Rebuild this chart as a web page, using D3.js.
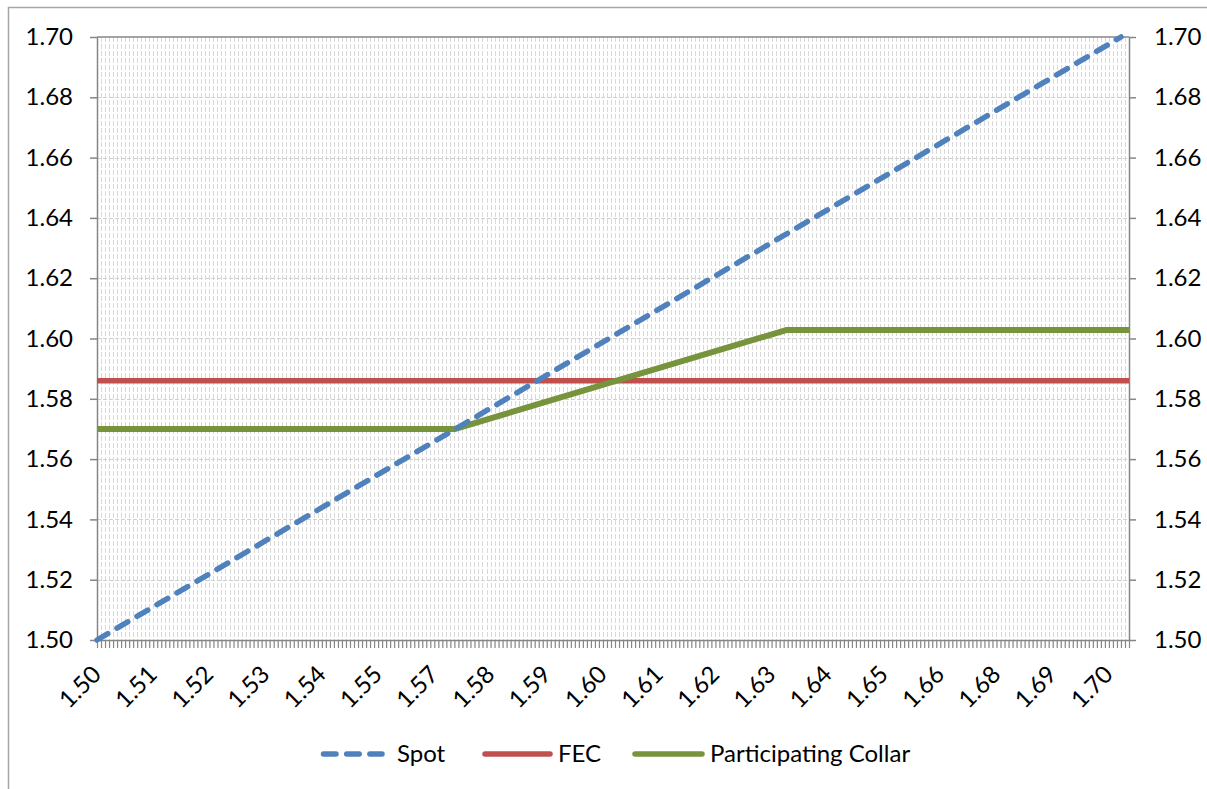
<!DOCTYPE html>
<html>
<head>
    <meta charset="utf-8">
    <title>Spot / FEC / Participating Collar</title>
    <script type="text/javascript" src="https://cdnjs.cloudflare.com/ajax/libs/d3/7.8.5/d3.min.js"></script>
    <style>
        body { margin: 0; background: #fff; }
        svg text { font-family: Lato, "Open Sans", sans-serif; font-size: 24px; fill: #000; }
    </style>
</head>

<body>

<script type="text/javascript">

    // category axis: spot rates from 1.50, one every 0.2/255, a label on every 14th
    var catStart = 1.50, catStep = 0.2 / 255, catCount = 258, labelEvery = 14;

    var xLabels = ["1.50", "1.51", "1.52", "1.53", "1.54", "1.55", "1.57", "1.58", "1.59", "1.60",
        "1.61", "1.62", "1.63", "1.64", "1.65", "1.66", "1.68", "1.69", "1.70"];
    var yTicks = [1.50, 1.52, 1.54, 1.56, 1.58, 1.60, 1.62, 1.64, 1.66, 1.68, 1.70];

    // series break points (spot rate, outcome)
    var spotX = [1.50, 1.70],
        spotY = [1.50, 1.70];
    var fecX = [1.50, 1.7016],
        fecY = [1.586, 1.586];
    var collarX = [1.50, 1.57, 1.6346, 1.7016],
        collarY = [1.57, 1.57, 1.6028, 1.6028];

    var seriesNames = ["Spot", "FEC", "Participating Collar"];
    var seriesColors = ["#4f81bd", "#c0504d", "#77933c"];

    var width = 1207, height = 789,
        margins = {top: 37, left: 97, right: 78, bottom: 149};

    var svg = d3.select("body").append("svg")
        .attr("width", width)
        .attr("height", height);

    // chart frame (runs off the right and bottom of the picture)
    svg.append("rect")
        .attr("x", 8.5).attr("y", 7.5)
        .attr("width", 1400).attr("height", 1000)
        .attr("fill", "none")
        .attr("stroke", "#a6a6a6")
        .attr("stroke-width", 1.5);

    var x = d3.scaleLinear()
        .domain([catStart, catStart + catStep * (catCount - 1)])
        .range([margins.left, width - margins.right]);

    var y = d3.scaleLinear()
        .domain([1.50, 1.70])
        .range([height - margins.bottom, margins.top]);

    var catValues = d3.range(catCount).map(function (i) { return catStart + i * catStep; });

    // gridlines
    var gridG = svg.append("g").attr("class", "grid");

    gridG.selectAll("line.v")
        .data(catValues.slice(1, catCount - 1))
        .enter().append("line")
        .attr("class", "v")
        .attr("x1", function (d) { return Math.round(x(d)) + 0.5; })
        .attr("x2", function (d) { return Math.round(x(d)) + 0.5; })
        .attr("y1", y(1.70))
        .attr("y2", y(1.50))
        .attr("stroke", "#d9d9d9")
        .attr("stroke-width", 1)
        .attr("stroke-dasharray", "5,2");

    gridG.selectAll("line.h")
        .data(yTicks.slice(1, yTicks.length - 1))
        .enter().append("line")
        .attr("class", "h")
        .attr("x1", x.range()[0])
        .attr("x2", x.range()[1])
        .attr("y1", function (d) { return Math.round(y(d)) + 0.5; })
        .attr("y2", function (d) { return Math.round(y(d)) + 0.5; })
        .attr("stroke", "#d0d0d0")
        .attr("stroke-width", 1)
        .attr("stroke-dasharray", "4,2");

    // axes
    var axisColor = "#868686";

    function styleAxis(g)
    {
        g.select(".domain").attr("stroke", axisColor).attr("stroke-width", 1.5);
        g.selectAll(".tick line").attr("stroke", axisColor).attr("stroke-width", 1.5);
        g.selectAll("text").attr("fill", "#000").attr("font-size", null).attr("font-family", null);
    }

    svg.append("g")
        .attr("transform", "translate(" + margins.left + ",0)")
        .call(d3.axisLeft(y).tickValues(yTicks).tickSize(7).tickSizeOuter(0)
            .tickPadding(17).tickFormat(d3.format(".2f")))
        .call(styleAxis);

    svg.append("g")
        .attr("transform", "translate(" + (width - margins.right) + ",0)")
        .call(d3.axisRight(y).tickValues(yTicks).tickSize(7).tickSizeOuter(0)
            .tickPadding(18).tickFormat(d3.format(".2f")))
        .call(styleAxis);

    // top border of the plot area
    svg.append("line")
        .attr("x1", x.range()[0]).attr("x2", x.range()[1])
        .attr("y1", y(1.70)).attr("y2", y(1.70))
        .attr("stroke", axisColor).attr("stroke-width", 1.5);

    var xAxisG = svg.append("g")
        .attr("transform", "translate(0," + y(1.50) + ")")
        .call(d3.axisBottom(x).tickValues(catValues).tickSize(8).tickSizeOuter(0)
            .tickFormat(function (d, i) { return i % labelEvery === 0 ? xLabels[i / labelEvery] : ""; }))
        .call(styleAxis);

    xAxisG.selectAll(".tick line").attr("stroke-width", 1.2);

    xAxisG.selectAll(".tick text")
        .attr("x", 0).attr("y", 0).attr("dy", 0)
        .attr("text-anchor", "end")
        .attr("transform", "translate(5,36) rotate(-45)");

    // lines
    var line = d3.line()
        .x(function (d) { return x(d[0]); })
        .y(function (d) { return y(d[1]); });

    var linesG = svg.append("g").attr("class", "lines");

    linesG.append("path")
        .datum(d3.zip(fecX, fecY))
        .attr("d", line)
        .attr("fill", "none")
        .attr("stroke", seriesColors[1])
        .attr("stroke-width", 5.5);

    linesG.append("path")
        .datum(d3.zip(collarX, collarY))
        .attr("d", line)
        .attr("fill", "none")
        .attr("stroke", seriesColors[2])
        .attr("stroke-width", 6)
        .attr("stroke-linejoin", "round");

    linesG.append("path")
        .datum(d3.zip(spotX, spotY))
        .attr("d", line)
        .attr("fill", "none")
        .attr("stroke", seriesColors[0])
        .attr("stroke-width", 5.5)
        .attr("stroke-linecap", "round")
        .attr("stroke-dasharray", "12.5,10.7");

    // legend
    var legendItems = [
        {x1: 323.5, x2: 382, tx: 397, dash: "12.5,10.7"},
        {x1: 485, x2: 550, tx: 558, dash: null},
        {x1: 635, x2: 702, tx: 710, dash: null}
    ];

    var legendG = svg.append("g").attr("class", "legend");

    legendItems.forEach(function (item, i)
    {
        legendG.append("line")
            .attr("x1", item.x1).attr("x2", item.x2)
            .attr("y1", 754).attr("y2", 754)
            .attr("stroke", seriesColors[i])
            .attr("stroke-width", 5.5)
            .attr("stroke-linecap", "round")
            .attr("stroke-dasharray", item.dash);

        legendG.append("text")
            .attr("x", item.tx)
            .attr("y", 754)
            .attr("dy", "0.35em")
            .text(seriesNames[i]);
    });

</script>

</body>

</html>
